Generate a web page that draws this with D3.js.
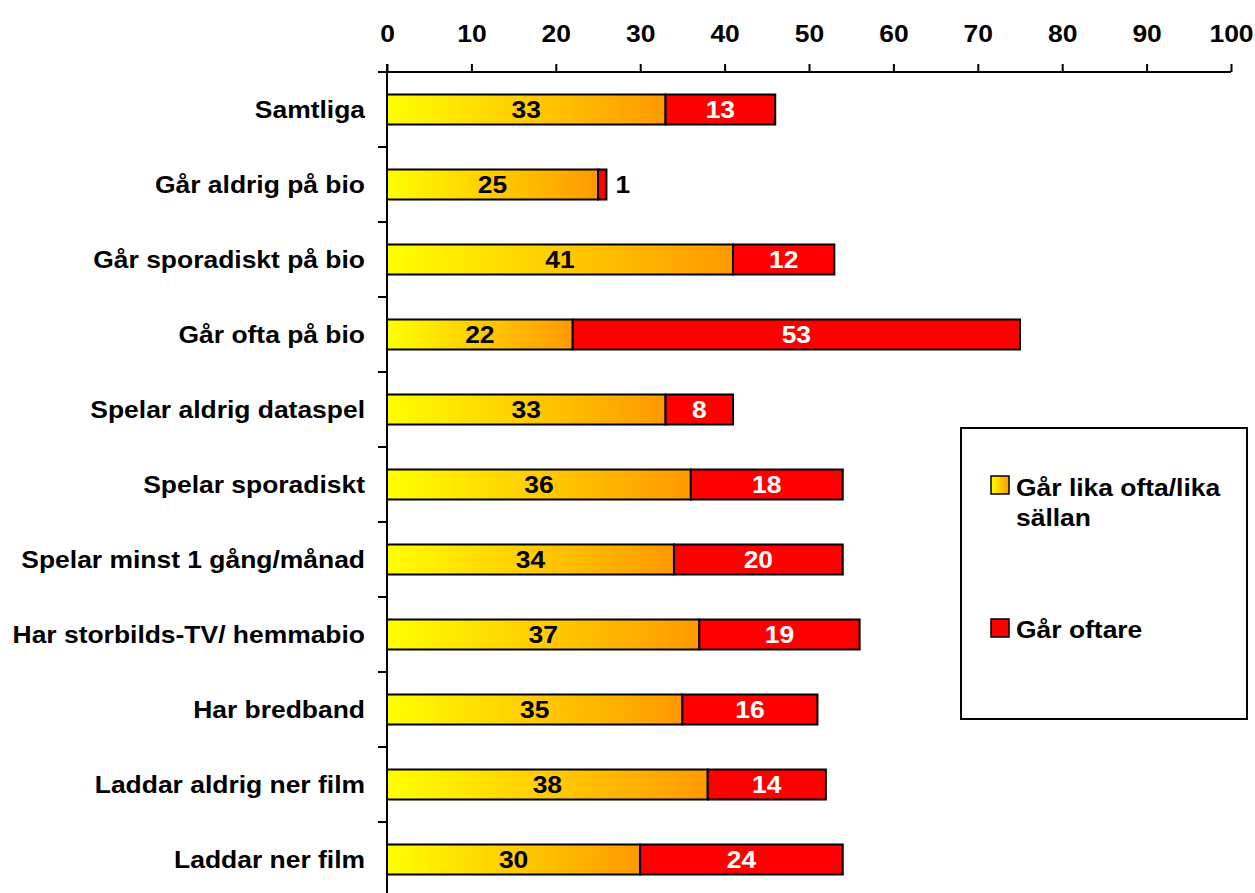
<!DOCTYPE html>
<html>
<head>
<meta charset="utf-8">
<script src="https://cdn.jsdelivr.net/npm/d3@7"></script>
<style>
  body { margin: 0; background: #fff; }
  svg text { font-family: Arial, "Liberation Sans", sans-serif; font-weight: bold; }
</style>
</head>
<body>
<svg id="chart" width="1255" height="893"></svg>
<script>
var categories = [
    'Samtliga',
    'Går aldrig på bio',
    'Går sporadiskt på bio',
    'Går ofta på bio',
    'Spelar aldrig dataspel',
    'Spelar sporadiskt',
    'Spelar minst 1 gång/månad',
    'Har storbilds-TV/ hemmabio',
    'Har bredband',
    'Laddar aldrig ner film',
    'Laddar ner film'
];
var sameValues = [33, 25, 41, 22, 33, 36, 34, 37, 35, 38, 30];
var moreValues = [13, 1, 12, 53, 8, 18, 20, 19, 16, 14, 24];
var seriesNames = ['Går lika ofta/lika', 'sällan', 'Går oftare'];
var xTicks = [0, 10, 20, 30, 40, 50, 60, 70, 80, 90, 100];

var svg = d3.select('#chart'),
    margin = {left: 387, top: 72},
    width = 1231 - margin.left,
    bandH = 75,
    fs = 23,
    stretch = 'scale(1.15,1)';   // text in the original is a bit wide

var x = d3.scaleLinear().domain([0, 100]).range([0, width]);
var y = d3.scaleBand().domain(categories)
    .range([0, bandH * categories.length]).paddingInner(0.6).paddingOuter(0.3);

var place = function(px, py) { return 'translate(' + px + ',' + py + ') ' + stretch; };

var defs = svg.append('defs');
var grad = defs.append('linearGradient').attr('id', 'yellowGrad')
    .attr('x1', '0%').attr('x2', '100%').attr('y1', '0%').attr('y2', '0%');
grad.append('stop').attr('offset', '0%').attr('stop-color', '#ffff00');
grad.append('stop').attr('offset', '100%').attr('stop-color', '#ff9900');

var g = svg.append('g').attr('transform', 'translate(' + margin.left + ',' + margin.top + ')');

var rows = categories.map(function(c, i) {
    return {cat: c, a: sameValues[i], b: moreValues[i]};
});

// bars
var row = g.selectAll('.row').data(rows).enter().append('g')
    .attr('class', 'row')
    .attr('transform', function(d) { return 'translate(0,' + y(d.cat) + ')'; });

row.append('rect')
    .attr('x', 0).attr('y', 0)
    .attr('width', function(d) { return x(d.a); })
    .attr('height', y.bandwidth())
    .attr('fill', 'url(#yellowGrad)')
    .attr('stroke', '#000').attr('stroke-width', 2);

row.append('rect')
    .attr('x', function(d) { return x(d.a); }).attr('y', 0)
    .attr('width', function(d) { return x(d.a + d.b) - x(d.a); })
    .attr('height', y.bandwidth())
    .attr('fill', '#ff0000')
    .attr('stroke', '#000').attr('stroke-width', 2);

row.append('text')
    .attr('transform', function(d) { return place(x(d.a / 2), y.bandwidth() / 2); })
    .attr('dy', '0.36em')
    .attr('text-anchor', 'middle')
    .attr('font-size', fs)
    .attr('fill', '#000')
    .text(function(d) { return d.a; });

row.append('text')
    .attr('transform', function(d) {
        return place(d.b < 3 ? x(d.a + d.b) + 9 : x(d.a + d.b / 2), y.bandwidth() / 2);
    })
    .attr('dy', '0.36em')
    .attr('text-anchor', function(d) { return d.b < 3 ? 'start' : 'middle'; })
    .attr('font-size', fs)
    .attr('fill', function(d) { return d.b < 3 ? '#000' : '#fff'; })
    .text(function(d) { return d.b; });

// top axis
var xAxis = g.append('g').attr('class', 'x-axis')
    .call(d3.axisTop(x).tickValues(xTicks).tickSize(8).tickSizeOuter(0).tickPadding(22));
xAxis.select('.domain').remove();
xAxis.append('line').attr('x1', -9).attr('x2', width).attr('y1', 0).attr('y2', 0)
    .attr('stroke', '#000').attr('stroke-width', 2);
xAxis.selectAll('.tick line').attr('stroke', '#000').attr('stroke-width', 2);
xAxis.selectAll('.tick text').attr('font-size', fs).attr('fill', '#000')
    .attr('transform', stretch)
    .style('font-family', 'Arial, "Liberation Sans", sans-serif').style('font-weight', 'bold');

// left axis
var yAxis = g.append('g').attr('class', 'y-axis');
yAxis.append('line').attr('x1', 0).attr('x2', 0).attr('y1', -8).attr('y2', bandH * categories.length)
    .attr('stroke', '#000').attr('stroke-width', 2);
yAxis.selectAll('.ytick').data(d3.range(1, categories.length + 1)).enter().append('line')
    .attr('x1', -9).attr('x2', 0)
    .attr('y1', function(d) { return d * bandH; })
    .attr('y2', function(d) { return d * bandH; })
    .attr('stroke', '#000').attr('stroke-width', 2);
yAxis.selectAll('.ylabel').data(categories).enter().append('text')
    .attr('transform', function(d) { return place(-22, y(d) + y.bandwidth() / 2); })
    .attr('dy', '0.36em')
    .attr('text-anchor', 'end')
    .attr('font-size', fs)
    .attr('fill', '#000')
    .text(function(d) { return d; });

// legend
var legend = svg.append('g').attr('transform', 'translate(961,428)');
legend.append('rect').attr('width', 286).attr('height', 291)
    .attr('fill', '#fff').attr('stroke', '#000').attr('stroke-width', 2);

var item1 = legend.append('g').attr('transform', 'translate(30,48)');
item1.append('rect').attr('width', 18).attr('height', 18)
    .attr('fill', 'url(#yellowGrad)').attr('stroke', '#000').attr('stroke-width', 1.5);
item1.append('text').attr('transform', place(25, 20)).attr('font-size', fs).text(seriesNames[0]);
item1.append('text').attr('transform', place(25, 50)).attr('font-size', fs).text(seriesNames[1]);

var item2 = legend.append('g').attr('transform', 'translate(30,191)');
item2.append('rect').attr('width', 18).attr('height', 18)
    .attr('fill', '#ff0000').attr('stroke', '#000').attr('stroke-width', 1.5);
item2.append('text').attr('transform', place(25, 19)).attr('font-size', fs).text(seriesNames[2]);
</script>
</body>
</html>
